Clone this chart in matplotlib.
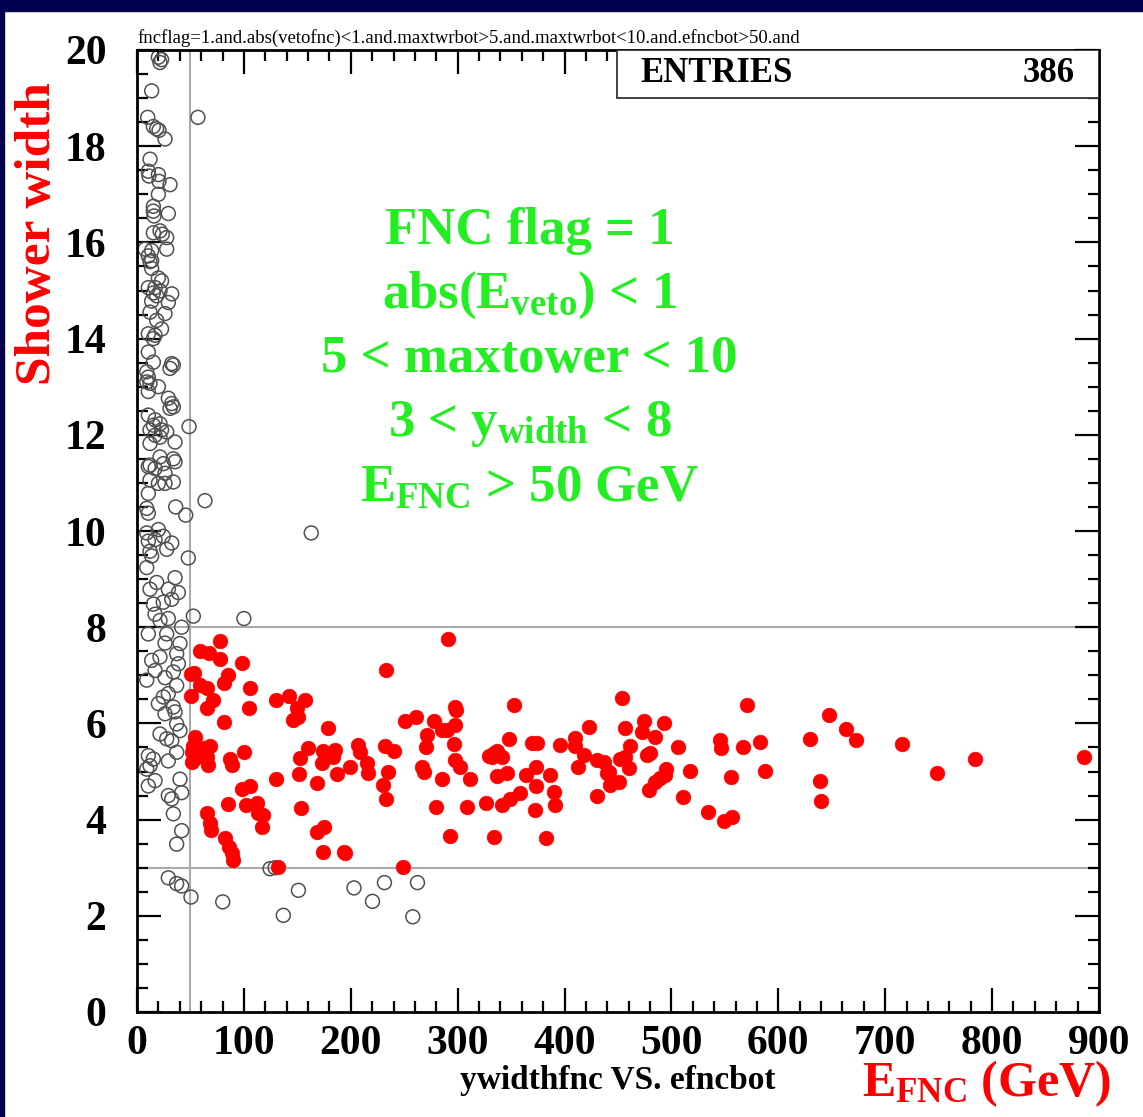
import matplotlib
matplotlib.use("Agg")
import matplotlib.pyplot as plt
from matplotlib.patches import Rectangle
from matplotlib.ticker import MultipleLocator

plt.rcParams["font.family"] = ["Liberation Serif", "DejaVu Serif"]
plt.rcParams["font.weight"] = "bold"
plt.rcParams["mathtext.fontset"] = "custom"
plt.rcParams["mathtext.rm"] = "Liberation Serif:bold"
plt.rcParams["mathtext.it"] = "Liberation Serif:bold"
plt.rcParams["mathtext.bf"] = "Liberation Serif:bold"

# ── Data ──────────────────────────────────────────────────────
# events failing the cuts (open circles)
open_x = [20, 21.5, 23, 13.7, 10, 57, 15.3, 18.4, 20.6, 26.2, 12.2, 10.6, 11.2, 20,
          20.6, 30.9, 20, 15.3, 15.3, 15.9, 29.3, 15.3, 21.5, 23.7, 27.8, 7.5, 13.7,
          27.8, 10.6, 13.7, 12.2, 13.7, 20, 23, 10.6, 16.9, 15.3, 21.5, 18.4, 32.5,
          29.3, 13.7, 12.2, 26.2, 18.4, 23, 10.6, 16.9, 15.3, 10.6, 15.3, 32.5, 30.9,
          34, 9.1, 10.6, 9.1, 12.2, 10.6, 20, 29.3, 32.5, 30.9, 34, 10.6, 16.9, 15.3,
          21.5, 23, 12.2, 16.9, 27.8, 21.5, 48.7, 12.2, 35.6, 21.5, 34, 12.2, 10.6,
          16.9, 26.2, 35.6, 24.6, 12.2, 20, 26.2, 34, 10.6, 9.1, 10.6, 36.2, 45.6,
          63.6, 9.1, 20, 24.6, 32.5, 10.6, 16.9, 12.2, 27.8, 13.7, 48, 163, 9.1, 35.6,
          18.4, 12.2, 29.3, 38.7, 15.3, 24.6, 16.9, 32.5, 21.5, 29.3, 52.7, 100, 10.6,
          27.8, 41.8, 26.2, 40.2, 13.7, 21.5, 37.1, 16.9, 34, 38.7, 37.1, 29.3, 24.6,
          20, 34, 35.6, 26.2, 37.1, 40.2, 21.5, 27.8, 32.5, 37.1, 10.6, 15.3, 29.3,
          12.2, 9.1, 16.9, 10.6, 40.2, 41.8, 29.3, 32.5, 34, 41.8, 37.1, 9.1, 26.2,
          124.5, 129.2, 29.3, 37.1, 41.8, 50.5, 80.2, 136.9, 151, 203, 220.3, 231.5,
          262.4, 258]
open_y = [19.85, 19.74, 19.8, 19.15, 18.6, 18.6, 18.41, 18.36, 18.33, 18.15, 17.73,
          17.48, 17.38, 17.41, 17.27, 17.2, 17.0, 16.75, 16.65, 16.55, 16.6, 16.2,
          16.24, 16.17, 16.1, 15.86, 15.83, 15.86, 15.72, 15.62, 15.6, 15.46, 15.26,
          15.2, 15.06, 15.06, 14.95, 14.99, 14.89, 14.93, 14.75, 14.78, 14.55, 14.52,
          14.38, 14.2, 14.1, 14.07, 14.0, 13.72, 13.51, 13.48, 13.38, 13.45, 13.31,
          13.2, 13.1, 13.07, 12.9, 13.0, 12.76, 12.65, 12.55, 12.58, 12.41, 12.31,
          12.2, 12.23, 12.1, 12.1, 11.99, 12.06, 11.95, 12.17, 11.82, 11.85, 11.54,
          11.5, 11.37, 11.34, 11.3, 11.2, 11.44, 11.4, 11.06, 10.99, 10.99, 11.02,
          10.78, 10.47, 10.37, 10.5, 10.33, 10.63, 9.96, 10.03, 9.89, 9.75, 9.79,
          9.82, 9.58, 9.62, 9.48, 9.44, 9.96, 9.24, 9.03, 8.93, 8.79, 8.79, 8.72,
          8.48, 8.52, 8.27, 8.58, 8.14, 8.18, 8.23, 8.18, 7.86, 7.86, 8.0, 7.67, 7.66,
          7.31, 7.38, 7.45, 7.1, 7.07, 7.24, 6.79, 6.62, 6.55, 6.41, 6.34, 6.24, 6.2,
          5.99, 5.85, 5.78, 5.68, 5.64, 5.4, 5.33, 5.26, 5.22, 5.12, 5.05, 4.81, 4.7,
          4.84, 4.56, 4.5, 4.43, 4.12, 3.77, 3.49, 6.9, 6.95,
          2.98, 3.0, 2.79, 2.67, 2.62, 2.39, 2.29, 2.01, 2.53, 2.58, 2.30, 2.69,
          2.69, 1.98]

# events passing the cuts (red dots)
red_x = [77.7, 59, 67.7, 77.7, 98.6, 291, 232.8, 50.6, 53, 85.5, 81.5, 59, 65.3, 105.8,
         50.6, 71.5, 65.3, 105.2, 129.9, 142.6, 149.5, 157.3, 146.3, 151, 81.7, 178.6,
         250.3, 261, 277.4, 285.3, 290, 297.8, 298.7, 297.8, 271.3, 296.2, 270.3, 54.3,
         52.7, 59, 51.2, 62.1, 68.4, 51.2, 65.3, 66.8, 55.9, 87.1, 88.7, 100.2, 129.9,
         152.6, 152, 160.4, 173.9, 172.9, 185.4, 183.8, 187, 199.4, 168.8, 207.2,
         208.8, 215, 215.7, 232.2, 240, 234.4, 230.6, 233.1, 266.6, 268.7, 285.3,
         297.8, 302.4, 311.8, 279.7, 308.7, 293, 98, 105.8, 84.9, 102, 112, 113.6,
         118.3, 116.7, 65.3, 68.4, 69, 153.3, 168.2, 174.5, 173.9, 193.2, 194.8, 82.4,
         86.1, 88.7, 89.6, 131.7, 248.4, 353, 347.7, 329, 333.6, 336.8, 341.5, 332.1,
         336.8, 346.2, 326.5, 341.5, 349.3, 358.6, 364.2, 373.6, 373.3, 372, 369.6,
         374.2, 386.7, 390.5, 390.8, 395.4, 334.3, 383, 410.1, 409.4, 417.9, 412.6,
         423.2, 430.4, 436.6, 430.4, 441.3, 439.7, 442.9, 450.7, 453.8, 456.3, 452.2,
         456.9, 460, 461.6, 472.5, 474, 484.4, 477.2, 480.3, 493.4, 478.8, 485, 489.7,
         494.4, 495.3, 506.2, 517.8, 510.9, 534.3, 549, 556.8, 545.2, 545.9, 555.9,
         567.1, 570.9, 582.4, 587.4, 629.5, 647.3, 638.6, 639.5, 663, 672.9, 715.4,
         748.8, 783.7, 886]
red_y = [7.72, 7.51, 7.46, 7.33, 7.25, 7.75, 7.11, 7.02, 7.05, 7.0, 6.83, 6.80, 6.74,
         6.73, 6.57, 6.49, 6.33, 6.31, 6.49, 6.57, 6.33, 6.49, 6.07, 6.14, 6.02, 5.90,
         6.06, 6.14, 6.04, 5.86, 5.86, 6.35, 6.28, 5.97, 5.76, 5.57, 5.50, 5.71, 5.52,
         5.41, 5.41, 5.48, 5.52, 5.20, 5.31, 5.14, 5.31, 5.27, 5.14, 5.41, 4.84, 5.29,
         4.95, 5.48, 5.43, 5.17, 5.45, 5.31, 4.95, 5.09, 4.77, 5.55, 5.41, 5.17, 4.96,
         5.52, 5.43, 4.98, 4.72, 4.42, 5.10, 5.0, 4.84, 5.24, 5.10, 4.84, 4.26, 4.27,
         3.66, 4.63, 4.70, 4.32, 4.30, 4.35, 4.13, 4.10, 3.84, 4.13, 3.92, 3.78, 4.25,
         3.75, 3.85, 3.32, 3.32, 3.30, 3.61, 3.44, 3.30, 3.16, 3.01, 3.02, 6.38, 5.67,
         5.32, 5.38, 5.43, 5.31, 5.30, 4.91, 4.96, 4.35, 4.30, 4.42, 4.55, 4.93, 5.10,
         4.70, 4.20, 5.59, 5.59, 4.93, 4.58, 4.30, 5.55, 3.63, 3.61, 5.69, 5.53, 5.34,
         5.10, 5.93, 5.24, 5.20, 4.50, 5.0, 4.96, 4.72, 4.78, 6.52, 5.90, 5.27, 5.31,
         5.07, 5.52, 5.83, 6.04, 5.71, 5.34, 5.38, 6.0, 4.62, 4.79, 4.86, 4.93, 5.05,
         5.50, 5.02, 4.46, 4.15, 3.97, 4.05, 5.65, 5.48, 4.89, 5.50, 6.38, 5.61, 5.02,
         5.68, 6.17, 4.80, 4.39, 5.88, 5.65, 5.58, 4.96, 5.25, 5.30]

cut_lines = [("v", 50), ("h", 8), ("h", 3)]
cut_text = ["FNC flag = 1", r"abs($E_{veto}$) < 1", "5 < maxtower < 10",
            r"3 < $y_{width}$ < 8", r"$E_{FNC}$ > 50 GeV"]
n_entries = 386

# ── Figure ────────────────────────────────────────────────────
fig = plt.figure(figsize=(11.43, 11.17), dpi=100)
navy = "#000050"
fig.patches.append(Rectangle((0, 1 - 11 / 1117), 1, 11 / 1117,
                             transform=fig.transFigure, color=navy, zorder=0))
fig.patches.append(Rectangle((0, 0), 4 / 1143, 1,
                             transform=fig.transFigure, color=navy, zorder=0))

ax = fig.add_axes([137 / 1143, 1 - 1012 / 1117, 962 / 1143, 962 / 1117])
ax.set_xlim(0, 900)
ax.set_ylim(0, 20)

for kind, val in cut_lines:
    if kind == "v":
        ax.axvline(val, color="#aaaaaa", lw=1.5, zorder=1)
    else:
        ax.axhline(val, color="#aaaaaa", lw=1.5, zorder=1)

ax.scatter(open_x, open_y, s=10 ** 2, facecolors="none", edgecolors="#505050",
           linewidths=1.1, zorder=2)
ax.scatter(red_x, red_y, s=10.5 ** 2, color="#ff0000", edgecolors="#ff0000",
           linewidths=0.5, zorder=3)

# ROOT-style frame and ticks
for sp in ax.spines.values():
    sp.set_linewidth(2)
ax.xaxis.set_major_locator(MultipleLocator(100))
ax.xaxis.set_minor_locator(MultipleLocator(20))
ax.yaxis.set_major_locator(MultipleLocator(2))
ax.yaxis.set_minor_locator(MultipleLocator(0.5))
ax.tick_params(which="both", direction="in", top=True, right=True, width=1.6)
ax.tick_params(which="major", length=17)
ax.tick_params(which="minor", length=8)
ax.tick_params(axis="x", labelsize=30, pad=9)
ax.tick_params(axis="y", labelsize=30, pad=22)

# stats box
ax.text(0.523, 0.976, "ENTRIES", transform=ax.transAxes, fontsize=25,
        ha="left", va="center", zorder=5)
ax.text(0.975, 0.976, str(n_entries), transform=ax.transAxes, fontsize=25,
        ha="right", va="center", zorder=5)
ax.add_patch(Rectangle((480 / 962, 914 / 962), 482 / 962, 48 / 962,
                       transform=ax.transAxes, facecolor="white",
                       edgecolor="#333333", lw=1.3, zorder=4))

# selection cuts
for i, line in enumerate(cut_text):
    ax.text(0.408, 0.812 - i * 0.0668, line, transform=ax.transAxes,
            fontsize=38, color="#22ee22", ha="center", va="center", zorder=5)

fig.text(137 / 1143, 1 - 38 / 1117,
         "fncflag=1.and.abs(vetofnc)<1.and.maxtwrbot>5.and.maxtwrbot<10.and.efncbot>50.and",
         fontsize=13.5, weight="normal", ha="left", va="center")
fig.text(618 / 1143, 1 - 1080 / 1117, "ywidthfnc VS. efncbot", fontsize=24,
         ha="center", va="center")
fig.text(987 / 1143, 1 - 1084 / 1117, r"$E_{FNC}$ (GeV)", fontsize=36,
         color="#ff0000", ha="center", va="center")
fig.text(38 / 1143, 1 - 234 / 1117, "Shower width", fontsize=37, color="#ff0000",
         rotation=90, ha="center", va="center")

fig.savefig("out.png", dpi=100)
